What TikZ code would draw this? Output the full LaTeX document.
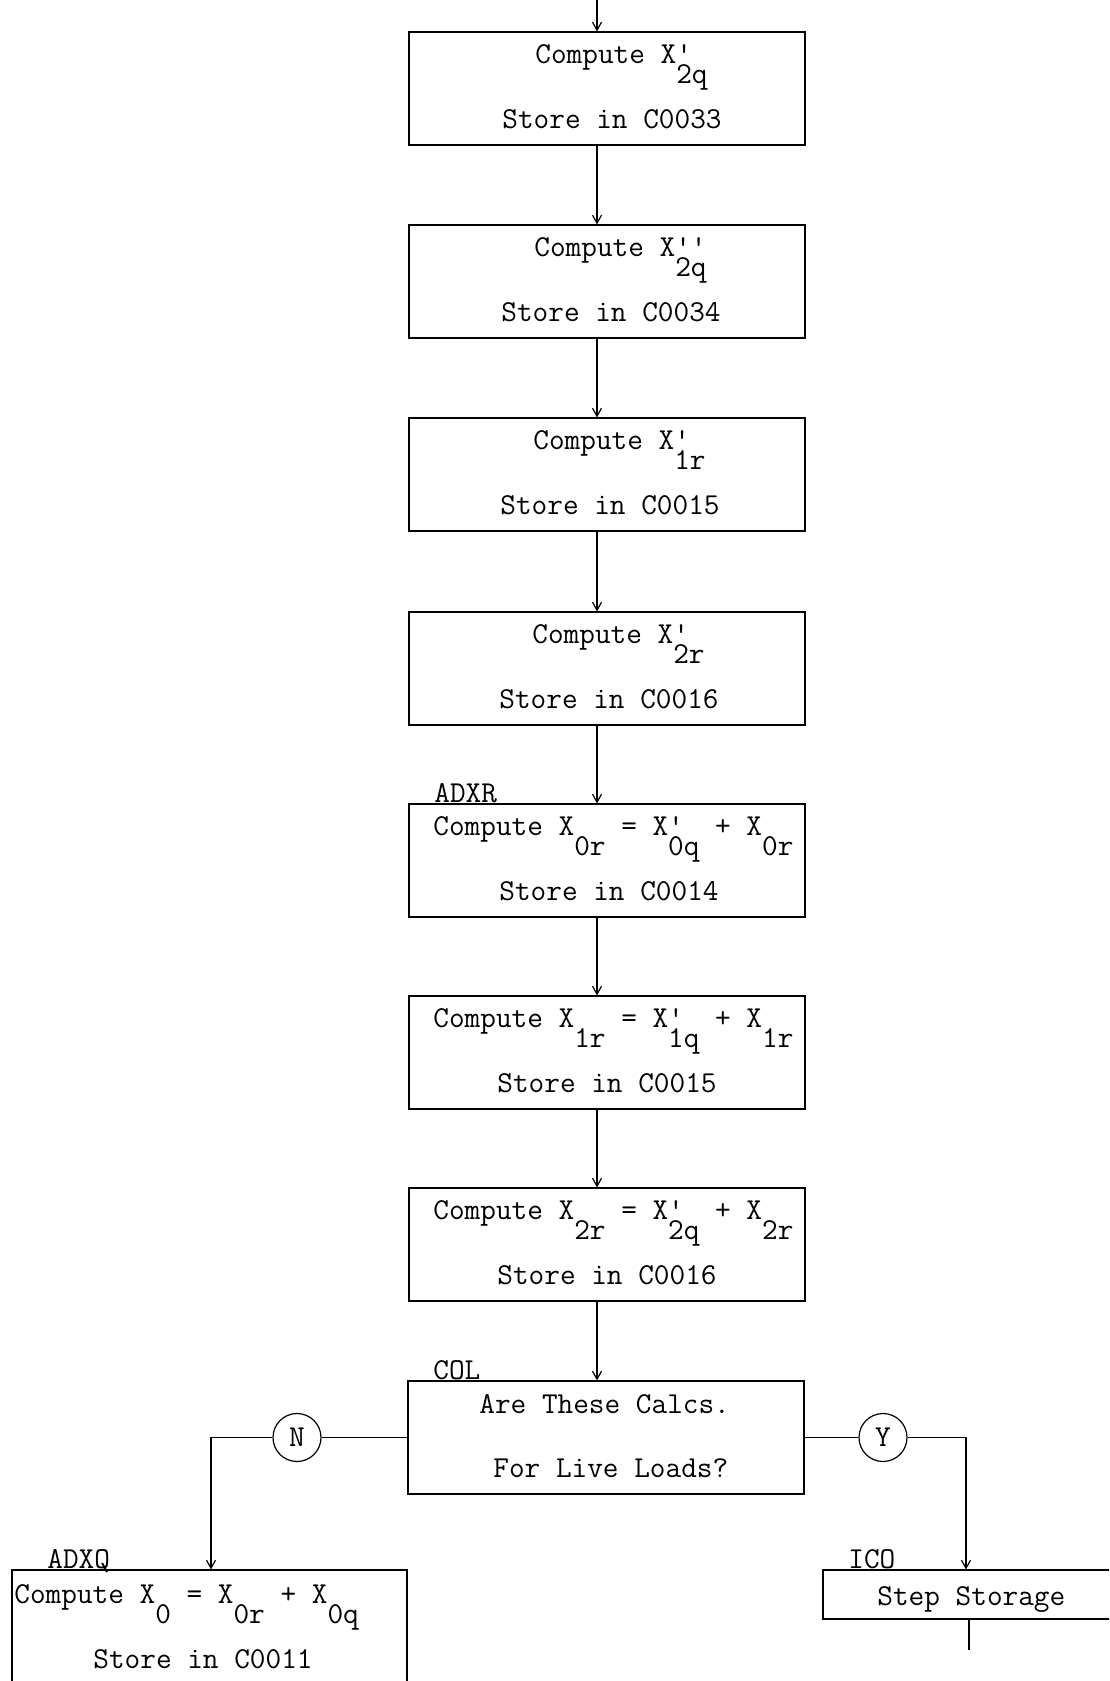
\documentclass[tikz,border=0pt]{standalone}
\usepackage{fontspec}
\usetikzlibrary{arrows.meta}
\newcommand{\lowr}[1]{\raisebox{-10pt}{#1}}
\newcommand{\prsub}[2]{\rlap{#1}\lowr{#2}}
\tikzset{
  box/.style={draw, line width=0.6pt, inner sep=0pt, minimum width=198pt, minimum height=56.5pt},
  txt/.style={inner sep=0pt, anchor=base west, font=\ttfamily\fontsize{15.2}{18}\selectfont},
  circ/.style={draw, circle, line width=0.6pt, inner sep=0pt, minimum size=24pt, font=\ttfamily\fontsize{15.2}{18}\selectfont},
  arr/.style={line width=0.6pt, -{Straight Barb[length=4pt,width=4.5pt]}},
  ln/.style={line width=0.6pt}
}
\begin{document}
\begin{tikzpicture}[x=0.5pt,y=-0.5pt]
\useasboundingbox (0,0) rectangle (1109,1681);
\clip (0,0) rectangle (1109,1681);
\coordinate (top) at (597,0);
% boxes
\node[box] (b1) at (607,88.5) {};
\node[box] (b2) at (607,281.5) {};
\node[box] (b3) at (607,474.5) {};
\node[box] (b4) at (607,668.5) {};
\node[box] (b5) at (607,860.5) {};
\node[box] (b6) at (607,1052.5) {};
\node[box] (b7) at (607,1244.5) {};
\node[box] (b8) at (606,1437.5) {};
\node[box, minimum width=197.5pt, minimum height=75pt] (bq) at (209.5,1645) {};
\node[box, minimum width=151pt, minimum height=24.5pt] (bs) at (974,1594.5) {};
% texts
\node[txt] (t1a) at (535,63) {Compute X\prsub{'}{2q}};
\node[txt] (t1b) at (502,128) {Store in C0033};
\node[txt] (t2a) at (534,256) {Compute X\prsub{''}{2q}};
\node[txt] (t2b) at (501,321) {Store in C0034};
\node[txt] (t3a) at (533,449) {Compute X\prsub{'}{1r}};
\node[txt] (t3b) at (500,514) {Store in C0015};
\node[txt] (t4a) at (532,643) {Compute X\prsub{'}{2r}};
\node[txt] (t4b) at (499,708) {Store in C0016};
\node[txt] (t5a) at (433,835) {Compute X\lowr{0r} = X\prsub{'}{0q} + X\lowr{0r}};
\node[txt] (t5b) at (499,900) {Store in C0014};
\node[txt] (t6a) at (433,1027) {Compute X\lowr{1r} = X\prsub{'}{1q} + X\lowr{1r}};
\node[txt] (t6b) at (497,1092) {Store in C0015};
\node[txt] (t7a) at (433,1219) {Compute X\lowr{2r} = X\prsub{'}{2q} + X\lowr{2r}};
\node[txt] (t7b) at (497,1284) {Store in C0016};
\node[txt] (t8a) at (479,1413) {Are These Calcs.};
\node[txt] (t8b) at (493,1477) {For Live Loads?};
\node[txt] (tqa) at (14,1603) {Compute X\lowr{0} = X\lowr{0r} + X\lowr{0q}};
\node[txt] (tqb) at (93,1668) {Store in C0011};
\node[txt] (tsa) at (877,1605) {Step Storage};
% labels
\node[txt] (lr) at (434,802) {ADXR};
\node[txt] (lc) at (433,1379) {COL};
\node[txt] (lq) at (47,1568) {ADXQ};
\node[txt] (li) at (848,1568) {ICO};
% circles
\node[circ] (nc) at (297,1437.5) {N};
\node[circ] (yc) at (883,1437.5) {Y};
\coordinate (lcor) at (211,1437.5);
\coordinate (rcor) at (966,1437.5);
\coordinate (send) at (969,1650);
% connectors
\draw[arr] (top) -- (b1.north -| top);
\draw[arr] (b1.south -| top) -- (b2.north -| top);
\draw[arr] (b2.south -| top) -- (b3.north -| top);
\draw[arr] (b3.south -| top) -- (b4.north -| top);
\draw[arr] (b4.south -| top) -- (b5.north -| top);
\draw[arr] (b5.south -| top) -- (b6.north -| top);
\draw[arr] (b6.south -| top) -- (b7.north -| top);
\draw[arr] (b7.south -| top) -- (b8.north -| top);
\draw[ln] (b8.west) -- (nc.east);
\draw[arr] (nc.west) -- (lcor) -- (bq.north -| lcor);
\draw[ln] (b8.east) -- (yc.west);
\draw[arr] (yc.east) -- (rcor) -- (bs.north -| rcor);
\draw[ln] (bs.south -| send) -- (send);
\end{tikzpicture}
\end{document}
